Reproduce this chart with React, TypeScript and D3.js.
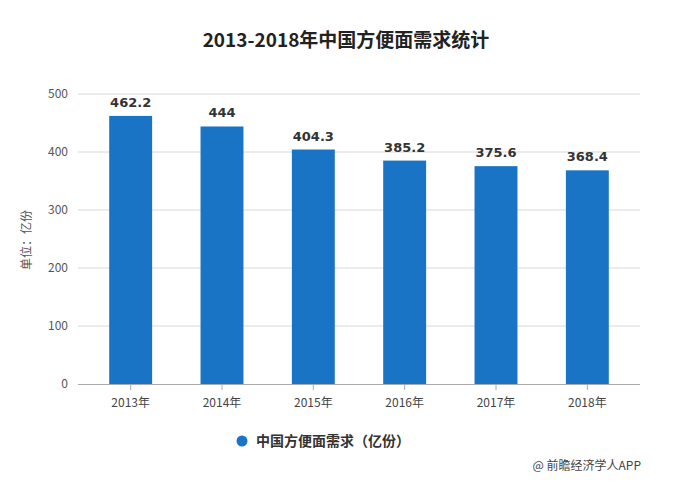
import React, { useEffect, useRef } from 'react';
import * as d3 from 'd3';

const years = ['2013年', '2014年', '2015年', '2016年', '2017年', '2018年'];
const demand = [462.2, 444, 404.3, 385.2, 375.6, 368.4];
const yTicks = [0, 100, 200, 300, 400, 500];

const title = '2013-2018年中国方便面需求统计';
const seriesName = '中国方便面需求（亿份）';
const unitLabel = '单位：亿份';
const source = '@ 前瞻经济学人APP';

const width = 692;
const height = 487;
const font = '"Noto Sans CJK SC", "Noto Sans", sans-serif';
const barColor = '#1a74c6';

const App = () => {
    const svgRef = useRef<SVGSVGElement>(null);

    useEffect(() => {
        const svg = d3.select(svgRef.current);
        svg.selectAll('*').remove();

        const x = d3.scaleBand()
            .domain(years)
            .range([85, 633])
            .paddingInner(0.53)
            .paddingOuter(0.265);

        const y = d3.scaleLinear()
            .domain([0, 500])
            .range([384, 94]);

        svg.append('rect')
            .attr('width', width)
            .attr('height', height)
            .attr('fill', '#fff');

        svg.append('text')
            .attr('x', 346)
            .attr('y', 47)
            .attr('text-anchor', 'middle')
            .style('font-family', font)
            .style('font-size', '19px')
            .style('font-weight', 'bold')
            .style('fill', '#222')
            .text(title);

        // gridlines + y labels
        const grid = svg.append('g');
        grid.selectAll('line')
            .data(yTicks.filter(d => d > 0))
            .join('line')
            .attr('x1', 78)
            .attr('x2', 640)
            .attr('y1', d => y(d))
            .attr('y2', d => y(d))
            .attr('stroke', '#d8d8d8')
            .attr('stroke-width', 1);

        grid.selectAll('text')
            .data(yTicks)
            .join('text')
            .attr('x', 68)
            .attr('y', d => y(d) + 4)
            .attr('text-anchor', 'end')
            .style('font-family', font)
            .style('font-size', '12px')
            .style('fill', '#555')
            .text(d => d);

        svg.append('text')
            .attr('transform', `translate(31, 240) rotate(-90)`)
            .attr('text-anchor', 'middle')
            .style('font-family', font)
            .style('font-size', '12px')
            .style('fill', '#555')
            .text(unitLabel);

        svg.append('g')
            .selectAll('rect')
            .data(demand)
            .join('rect')
            .attr('x', (d, i) => x(years[i])!)
            .attr('y', d => y(d))
            .attr('width', x.bandwidth())
            .attr('height', d => y(0) - y(d))
            .attr('fill', barColor);

        svg.append('g')
            .selectAll('text')
            .data(demand)
            .join('text')
            .attr('x', (d, i) => x(years[i])! + x.bandwidth() / 2)
            .attr('y', d => y(d) - 9)
            .attr('text-anchor', 'middle')
            .style('font-family', '"DejaVu Sans", sans-serif')
            .style('font-size', '13px')
            .style('font-weight', 'bold')
            .style('fill', '#333')
            .text(d => d);

        // x axis
        svg.append('line')
            .attr('x1', 78)
            .attr('x2', 640)
            .attr('y1', y(0) + 0.5)
            .attr('y2', y(0) + 0.5)
            .attr('stroke', '#aaa');

        const xAxis = svg.append('g');
        xAxis.selectAll('line')
            .data(years)
            .join('line')
            .attr('x1', d => x(d)! + x.bandwidth() / 2)
            .attr('x2', d => x(d)! + x.bandwidth() / 2)
            .attr('y1', y(0))
            .attr('y2', y(0) + 6)
            .attr('stroke', '#aaa');

        xAxis.selectAll('text')
            .data(years)
            .join('text')
            .attr('x', d => x(d)! + x.bandwidth() / 2)
            .attr('y', y(0) + 23)
            .attr('text-anchor', 'middle')
            .style('font-family', font)
            .style('font-size', '12px')
            .style('fill', '#444')
            .text(d => d);

        // legend
        svg.append('circle')
            .attr('cx', 242)
            .attr('cy', 441)
            .attr('r', 5.5)
            .attr('fill', barColor);

        svg.append('text')
            .attr('x', 256)
            .attr('y', 446)
            .style('font-family', font)
            .style('font-size', '14px')
            .style('font-weight', 'bold')
            .style('fill', '#333')
            .text(seriesName);

        svg.append('text')
            .attr('x', 641)
            .attr('y', 470)
            .attr('text-anchor', 'end')
            .style('font-family', font)
            .style('font-size', '12px')
            .style('fill', '#444')
            .text(source);
    }, []);

    return (
        <svg
            ref={svgRef}
            width={width}
            height={height}
            style={{ position: 'absolute', left: 0, top: 0 }}
        />
    );
};

export default App;
